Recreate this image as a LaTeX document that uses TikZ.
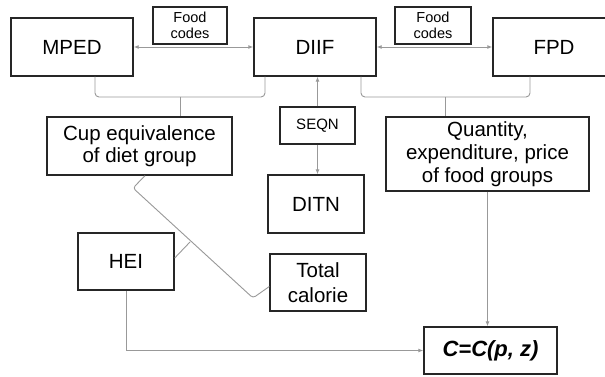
\documentclass[tikz,border=0pt]{standalone}
\usepackage{fontspec}
\setmainfont{Liberation Sans}
\usepackage{tikz}
\usetikzlibrary{positioning,calc,arrows.meta}

\begin{document}
\begin{tikzpicture}[x=1pt,y=-1pt,
    box/.style={draw=black!85,line width=1.4pt,fill=white,inner sep=0pt,align=center,
                font=\fontsize{20.5}{22}\selectfont},
    smallbox/.style={box,font=\fontsize{14.5}{16}\selectfont},
    link/.style={draw=black!40,line width=0.9pt},
    arr/.style={link,-{Latex[length=5pt,width=4pt]}},
    darr/.style={link,{Latex[length=5pt,width=4pt]}-{Latex[length=5pt,width=4pt]}}]
    \useasboundingbox (0,0) rectangle (605,377);
    \fill[white] (0,0) rectangle (605,377);

    % Data files
    \node[box,minimum width=122pt,minimum height=58pt] (mped) at (72,47) {MPED};
    \node[box,minimum width=122pt,minimum height=58pt] (diif) at (315,47) {DIIF};
    \node[box,minimum width=122pt,minimum height=58pt] (fpd) at (554,47) {FPD};
    \node[smallbox,minimum width=74pt,minimum height=37pt] (codesl) at (190,25.5) {Food\\codes};
    \node[smallbox,minimum width=76pt,minimum height=37pt] (codesr) at (433,25.5) {Food\\codes};
    \draw[darr] (mped.east) -- (diif.west);
    \draw[darr] (diif.east) -- (fpd.west);

    % SEQN link
    \node[smallbox,font=\fontsize{15}{17}\selectfont,minimum width=75pt,minimum height=37pt] (seqn) at (317.5,125.5) {SEQN};
    \node[box,minimum width=96pt,minimum height=58pt] (ditn) at (316,204) {DITN};
    \draw[arr] (seqn.north) -- (seqn.north |- diif.south);
    \draw[arr] (seqn.south) -- (seqn.south |- ditn.north);

    % Derived groups
    \node[box,minimum width=185pt,minimum height=58pt] (cup) at (139.5,146) {Cup equivalence\\of diet group};
    \node[box,minimum width=203pt,minimum height=74pt,font=\fontsize{20.5}{23}\selectfont] (qty) at (487.5,154)
        {Quantity,\\expenditure, price\\of food groups};
    \coordinate (tipl) at (180,97);
    \coordinate (tipr) at (445,97);
    \draw[link,rounded corners=4pt] (mped.south -| 95,0) -- (95,97) -- (265,97) -- (diif.south -| 265,0);
    \draw[link] (tipl) -- (tipl |- cup.north);
    \draw[link,rounded corners=4pt] (diif.south -| 361,0) -- (361,97) -- (530,97) -- (fpd.south -| 530,0);
    \draw[link] (tipr) -- (tipr |- qty.north);

    % HEI
    \node[box,minimum width=96pt,minimum height=57pt] (hei) at (126,261.5) {HEI};
    \node[box,minimum width=96pt,minimum height=57pt,font=\fontsize{20.5}{25}\selectfont] (total) at (318,282.5) {Total\\calorie};
    \coordinate (tiph) at (190,242);
    \draw[link,rounded corners=3pt] (cup.south -| 145,0) -- (133,188) -- (253,298) -- ([yshift=-4pt]total.west);
    \draw[link] (tiph) -- ([yshift=3.5pt]hei.east);

    % Cost function
    \node[box,minimum width=133pt,minimum height=47pt,font=\fontsize{22}{24}\selectfont\bfseries\itshape] (cfun) at (490.5,350.5) {C=C(p, z)};
    \draw[arr] (qty.south) -- (qty.south |- cfun.north);
    \draw[arr] (hei.south) |- (cfun.west);
\end{tikzpicture}
\end{document}
